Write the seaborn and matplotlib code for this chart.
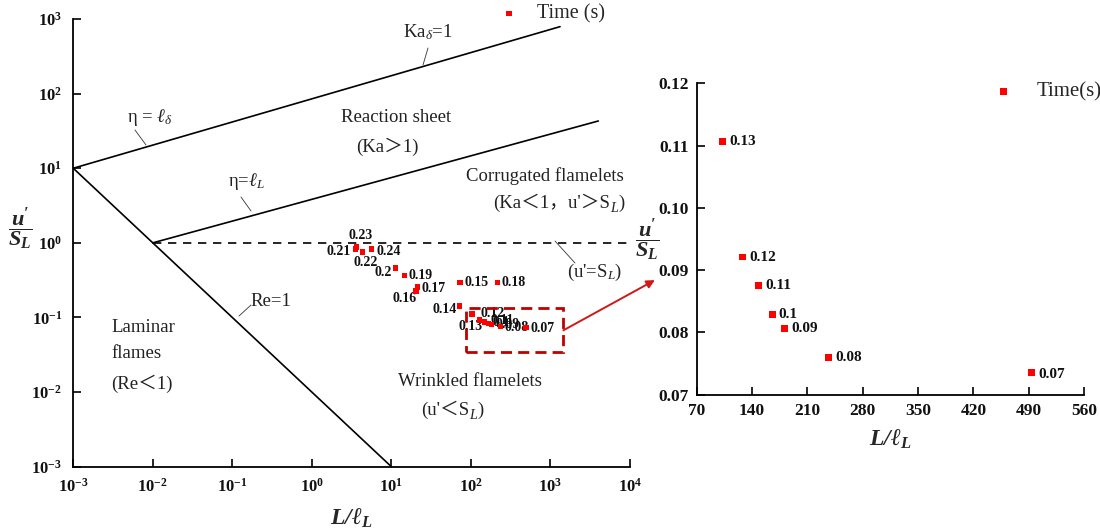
import matplotlib
matplotlib.use('Agg')
import numpy as np
import pandas as pd
import matplotlib.pyplot as plt
import seaborn as sns
from matplotlib.patches import Rectangle, ConnectionPatch

# ---------------- data ----------------
times = ['0.07', '0.08', '0.09', '0.1', '0.11', '0.12', '0.13', '0.14', '0.15',
         '0.16', '0.17', '0.18', '0.19', '0.2', '0.21', '0.22', '0.23', '0.24']
L_ratio = [494, 237, 181.3, 165.7, 148.4, 128.2, 102.9, 71.7, 73.1,
           20.5, 21.2, 215, 14.6, 11.3, 3.52, 4.36, 3.62, 5.66]
u_ratio = [0.0736, 0.0760, 0.0806, 0.0829, 0.0875, 0.0921, 0.1106, 0.142, 0.294,
           0.227, 0.257, 0.294, 0.366, 0.462, 0.83, 0.757, 0.88, 0.823]
zoom_times = ['0.07', '0.08', '0.09', '0.1', '0.11', '0.12', '0.13']

x_ticks_left = [1e-3, 1e-2, 1e-1, 1e0, 1e1, 1e2, 1e3, 1e4]
x_ticklabels_left = [r'$\mathbf{10^{-3}}$', r'$\mathbf{10^{-2}}$', r'$\mathbf{10^{-1}}$',
                     r'$\mathbf{10^{0}}$', r'$\mathbf{10^{1}}$', r'$\mathbf{10^{2}}$',
                     r'$\mathbf{10^{3}}$', r'$\mathbf{10^{4}}$']
y_ticks_left = [1e-3, 1e-2, 1e-1, 1e0, 1e1, 1e2, 1e3]
y_ticklabels_left = [r'$\mathbf{10^{-3}}$', r'$\mathbf{10^{-2}}$', r'$\mathbf{10^{-1}}$',
                     r'$\mathbf{10^{0}}$', r'$\mathbf{10^{1}}$', r'$\mathbf{10^{2}}$',
                     r'$\mathbf{10^{3}}$']
x_ticks_right = [70, 140, 210, 280, 350, 420, 490, 560]
x_ticklabels_right = ['70', '140', '210', '280', '350', '420', '490', '560']
y_ticks_right = [0.07, 0.08, 0.09, 0.10, 0.11, 0.12]
y_ticklabels_right = ['0.07', '0.08', '0.09', '0.10', '0.11', '0.12']

# regime boundaries of the Borghi diagram
eta_delta_x = [1e-3, 1320]
eta_delta_y = [10, 790]
eta_L_x = [1e-2, 4000]
eta_L_y = [1, 43]
re1_x = [1e-3, 10]
re1_y = [10, 1e-3]
uSL_x = [1e-2, 1e4]
uSL_y = [1, 1]
zoom_box_x = [86, 1455]
zoom_box_y = [0.0343, 0.132]

df = pd.DataFrame({'time': times, 'L': L_ratio, 'u': u_ratio})
dz = df[df['time'].isin(zoom_times)]

# ---------------- style ----------------
sns.set_theme(style='white')
plt.rcParams['font.family'] = ['Liberation Serif', 'Noto Sans CJK SC', 'DejaVu Sans']
plt.rcParams['mathtext.fontset'] = 'custom'
plt.rcParams['mathtext.rm'] = 'Liberation Serif'
plt.rcParams['mathtext.it'] = 'Liberation Serif:italic'
plt.rcParams['mathtext.bf'] = 'Liberation Serif:bold'
plt.rcParams['mathtext.bfit'] = 'Liberation Serif:bold:italic'

fig = plt.figure(figsize=(11, 5.31), dpi=100)
ax1 = fig.add_axes([0.0666, 0.1211, 0.5061, 0.8431])
ax2 = fig.add_axes([0.6334, 0.2567, 0.3521, 0.5864])

RED = '#FF0000'
DARKRED = '#C00000'
TXT = '#222222'
FAM = ['Liberation Serif', 'Noto Sans CJK SC']

# ---------------- left: regime diagram ----------------
ax1.set_xscale('log')
ax1.set_yscale('log')
ax1.plot(eta_delta_x, eta_delta_y, color='black', lw=1.2)
ax1.plot(eta_L_x, eta_L_y, color='black', lw=1.2)
ax1.plot(re1_x, re1_y, color='black', lw=1.2)
ax1.plot(uSL_x, uSL_y, color='black', lw=1.2, dashes=(5, 4))

sns.scatterplot(data=df, x='L', y='u', marker='s', color=RED, s=16,
                edgecolor='none', ax=ax1, label='Time (s)', zorder=5)

left_offsets = {
    '0.07': (3, -1, 'left'), '0.08': (3, -1, 'left'), '0.09': (3, 0, 'left'),
    '0.1': (3, 1, 'left'), '0.11': (4, 1, 'left'), '0.12': (1, 5, 'left'),
    '0.13': (-1, -9, 'center'), '0.14': (-2, -2.5, 'right'), '0.15': (3, 0, 'left'),
    '0.16': (0, -5.5, 'right'), '0.17': (3, -1, 'left'), '0.18': (3, 0, 'left'),
    '0.19': (3, 0, 'left'), '0.2': (-3, -3.5, 'right'), '0.21': (-3, -2, 'right'),
    '0.22': (2, -8, 'center'), '0.23': (3, 8, 'center'), '0.24': (3.5, -1.5, 'left'),
}
for t, x, y in zip(df['time'], df['L'], df['u']):
    dx, dy, ha = left_offsets[t]
    ax1.annotate(t, (x, y), xytext=(dx, dy), textcoords='offset points',
                 ha=ha, va='center', fontsize=10, fontweight='bold', color='#111111')

ax1.add_patch(Rectangle((zoom_box_x[0], zoom_box_y[0]),
                        zoom_box_x[1] - zoom_box_x[0], zoom_box_y[1] - zoom_box_y[0],
                        fill=False, edgecolor=DARKRED, lw=2.0, linestyle=(0, (4, 2.2)),
                        zorder=4))

ax1.set_xlim(1e-3, 1e4)
ax1.set_ylim(1e-3, 1e3)
ax1.set_xticks(x_ticks_left, x_ticklabels_left)
ax1.set_yticks(y_ticks_left, y_ticklabels_left)
ax1.minorticks_off()


# region texts (figure pixel coordinates of the reference)
def ftxt(px, py, s, size=13.5, ha='center'):
    return fig.text(px / 1100, 1 - py / 531, s, ha=ha, va='center', fontsize=size,
                    family=FAM, color=TXT)


def ftxt_sub(px, py, head, tail, size=13.5):
    """text 'head' followed by an italic subscript L and 'tail' (keeps CJK fallback)."""
    t1 = fig.text(px / 1100, 1 - py / 531, head, ha='left', va='center', fontsize=size,
                  family=FAM, color=TXT)
    t2 = ax1.annotate('L', xy=(1, 0), xycoords=t1, xytext=(0.3, -2.0),
                      textcoords='offset points', ha='left', va='bottom',
                      fontsize=size * 0.75, style='italic', family='Liberation Serif',
                      color=TXT, annotation_clip=False)
    ax1.annotate(tail, xy=(1, 0.5), xycoords=(t2, t1), xytext=(0.3, 0),
                 textcoords='offset points', ha='left', va='center', fontsize=size,
                 family=FAM, color=TXT, annotation_clip=False)


ftxt(428, 32, r'Ka$_{\delta}$=1')
ftxt(150, 117, r'η = $\ell_{\delta}$')
ftxt(396, 118, 'Reaction sheet')
ftxt(387, 147, '(Ka＞1)')
ftxt(246, 181, r'η=$\ell_{L}$')
ftxt(545, 176, 'Corrugated flamelets')
ftxt_sub(493, 203, "(Ka＜1，u'＞S", ')')
ftxt(595, 272, "(u'=S$_{L}$)")
ftxt(271, 301, 'Re=1')
ftxt(111, 327, 'Laminar', ha='left')
ftxt(111, 354, 'flames', ha='left')
ftxt(111, 384, '(Re＜1)', ha='left')
ftxt(470, 381, 'Wrinkled flamelets')
ftxt_sub(421, 410, "(u'＜S", ')')

# leader lines
leaders = [((428, 48), (423, 65)), ((135, 130), (146, 145)), ((241, 197), (251, 211)),
           ((251, 305), (239, 316)), ((555, 241), (575, 263))]
for (xa, ya), (xb, yb) in leaders:
    fig.add_artist(plt.Line2D([xa / 1100, xb / 1100], [1 - ya / 531, 1 - yb / 531],
                              color='#333333', lw=0.6))

ax1.set_xlabel(r'$\mathbfit{L/\ell_{L}}$', fontsize=17, labelpad=8)
ax1.set_ylabel(r'$\mathbfit{\dfrac{u^{\prime}}{S_{L}}}$', fontsize=16, rotation=0,
               ha='center', va='center')
ax1.yaxis.set_label_coords(-0.096, 0.529)

ax1.legend(loc='center left', bbox_to_anchor=(499 / 1100, 1 - 14 / 531),
           bbox_transform=fig.transFigure, frameon=False, fontsize=14.5,
           handlelength=1.0, handletextpad=0.9, borderpad=0, borderaxespad=0,
           markerscale=1.0)

# ---------------- right: zoomed view ----------------
sns.scatterplot(data=dz, x='L', y='u', marker='s', color=RED, s=24,
                edgecolor='none', ax=ax2, label='Time(s)', zorder=5)
for t, x, y in zip(dz['time'], dz['L'], dz['u']):
    dy = -1.5 if t == '0.07' else 0
    ax2.annotate(t, (x, y), xytext=(4.5, dy), textcoords='offset points',
                 ha='left', va='center', fontsize=11, fontweight='bold', color='#111111')

ax2.set_xlim(70, 560)
ax2.set_ylim(0.07, 0.12)
ax2.set_xticks(x_ticks_right, x_ticklabels_right)
ax2.set_yticks(y_ticks_right, y_ticklabels_right)
ax2.set_xlabel(r'$\mathbfit{L/\ell_{L}}$', fontsize=17, labelpad=6)
ax2.set_ylabel(r'$\mathbfit{\dfrac{u^{\prime}}{S_{L}}}$', fontsize=16, rotation=0,
               ha='center', va='center')
ax2.yaxis.set_label_coords(-0.128, 0.497)
ax2.legend(loc='center left', bbox_to_anchor=(993 / 1100, 1 - 92 / 531),
           bbox_transform=fig.transFigure, frameon=False, fontsize=15,
           handlelength=1.0, handletextpad=1.1, borderpad=0, borderaxespad=0)

for ax, fs, pad in ((ax1, 12, 8), (ax2, 12.5, 6)):
    for side in ('top', 'right'):
        ax.spines[side].set_visible(False)
    for side in ('left', 'bottom'):
        ax.spines[side].set_color('black')
        ax.spines[side].set_linewidth(1.3)
    ax.tick_params(axis='both', which='both', direction='in', length=6, width=1.2,
                   bottom=True, left=True, top=False, right=False, colors='black',
                   labelsize=fs, pad=pad)
    for lab in ax.get_xticklabels() + ax.get_yticklabels():
        lab.set_fontweight('bold')
        lab.set_color('#111111')

# arrow from the zoom box to the zoomed panel
con = ConnectionPatch(xyA=(zoom_box_x[1], np.sqrt(zoom_box_y[0] * zoom_box_y[1])),
                      coordsA=ax1.transData, xyB=(-0.108, 0.368), coordsB=ax2.transAxes,
                      arrowstyle='-|>', color='#D01818', lw=1.4, mutation_scale=12)
fig.add_artist(con)

fig.savefig('out.png', dpi=100)
